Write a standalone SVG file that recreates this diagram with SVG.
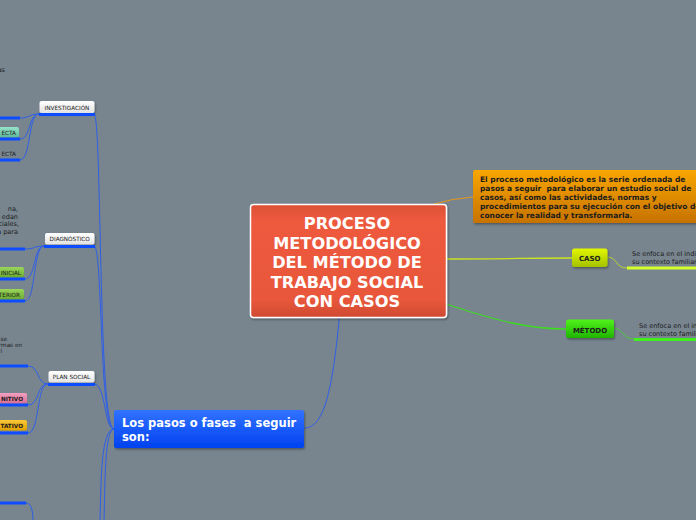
<svg xmlns="http://www.w3.org/2000/svg" width="696" height="520" viewBox="0 0 696 520">
<defs>
<linearGradient id="gRoot" x1="0" y1="0" x2="0" y2="1"><stop offset="0" stop-color="#dc5038"/><stop offset="0.15" stop-color="#ee5a3d"/><stop offset="0.85" stop-color="#e8573a"/><stop offset="1" stop-color="#cf4a32"/></linearGradient>
<linearGradient id="gBlue" x1="0" y1="0" x2="0" y2="1"><stop offset="0" stop-color="#3272ff"/><stop offset="1" stop-color="#0042f0"/></linearGradient>
<linearGradient id="gOrange" x1="0" y1="0" x2="0" y2="1"><stop offset="0" stop-color="#f9a600"/><stop offset="1" stop-color="#c67200"/></linearGradient>
<linearGradient id="gCaso" x1="0" y1="0" x2="0" y2="1"><stop offset="0" stop-color="#e2f700"/><stop offset="1" stop-color="#a4c200"/></linearGradient>
<linearGradient id="gMetodo" x1="0" y1="0" x2="0" y2="1"><stop offset="0" stop-color="#50f21c"/><stop offset="1" stop-color="#20b400"/></linearGradient>
<linearGradient id="gWhite" x1="0" y1="0" x2="0" y2="1"><stop offset="0" stop-color="#ffffff"/><stop offset="1" stop-color="#e2e2e2"/></linearGradient>
<linearGradient id="gTeal" x1="0" y1="0" x2="0" y2="1"><stop offset="0" stop-color="#96e4c8"/><stop offset="1" stop-color="#5cb698"/></linearGradient>
<linearGradient id="gGreen" x1="0" y1="0" x2="0" y2="1"><stop offset="0" stop-color="#9ad65a"/><stop offset="1" stop-color="#68a830"/></linearGradient>
<linearGradient id="gPink" x1="0" y1="0" x2="0" y2="1"><stop offset="0" stop-color="#f4a0c0"/><stop offset="1" stop-color="#d86c94"/></linearGradient>
<linearGradient id="gYellow" x1="0" y1="0" x2="0" y2="1"><stop offset="0" stop-color="#fbc838"/><stop offset="1" stop-color="#e0a000"/></linearGradient>
<filter id="sh" x="-10%" y="-10%" width="130%" height="140%"><feDropShadow dx="1" dy="1.5" stdDeviation="1" flood-color="#000" flood-opacity="0.35"/></filter>
</defs>
<style>
.thin{fill:none;stroke:#2f5fe6;stroke-width:1}
.ul{fill:none;stroke:#0d4cff;stroke-width:3}
.t{font-family:"DejaVu Sans",Verdana,sans-serif;fill:#1c1c1c}
.s{font-size:5.7px}
.n{font-size:6.5px}
.w{font-family:"DejaVu Sans",Verdana,sans-serif;font-weight:bold;fill:#ffffff}
.b{font-family:"DejaVu Sans",Verdana,sans-serif;font-weight:bold;fill:#1c1c1c}
</style>
<rect x="0" y="0" width="696" height="520" fill="#78858f"/>

<g id="connectors">
<path d="M400,220 Q430,200 473,197" fill="none" stroke="#e8961c" stroke-width="1"/>
<path d="M440,259 C500,259 530,258 572,258" fill="none" stroke="#c8e420" stroke-width="1.3"/>
<path d="M440,302 C500,322 530,329 566,329" fill="none" stroke="#3cdc20" stroke-width="1.3"/>
<path d="M340,310 C332,400 322,428 304,428" class="thin" stroke-width="1.3"/>
<path d="M608,257 C618,258 615,268 627,268" fill="none" stroke="#c8e420" stroke-width="0.8"/>
<path d="M614,328 C624,329 622,339 634,339" fill="none" stroke="#3cdc20" stroke-width="0.8"/>
<path d="M114,429 C98,429 102,114 94,114" class="thin"/>
<path d="M114,429 C99,429 103,246 94,246" class="thin"/>
<path d="M114,429 C104,429 106,384 94,384" class="thin"/>
<path d="M114,429 C101,429 101,480 100,522" class="thin"/>
<path d="M114,429 C105,429 105,480 104,522" class="thin"/>
<path d="M39,114 C28,114 31,118 20,118" class="thin"/>
<path d="M39,114 C28,114 31,139 20,139" class="thin"/>
<path d="M39,114 C28,114 31,160 20,160" class="thin"/>
<path d="M44,246 C33,246 36,249 25,249" class="thin"/>
<path d="M44,246 C33,246 36,279 25,279" class="thin"/>
<path d="M44,246 C33,246 36,301 25,301" class="thin"/>
<path d="M48,384 C36,384 40,366 28,366" class="thin"/>
<path d="M48,384 C36,384 40,405 28,405" class="thin"/>
<path d="M48,384 C36,384 40,433 28,433" class="thin"/>
<path d="M26,503 C31,503 33,510 33,522" class="thin"/>
</g>

<g id="root">
<rect x="250.5" y="204.5" width="196" height="113" rx="3" fill="url(#gRoot)" stroke="#ffffff" stroke-width="1.5" filter="url(#sh)"/>
<g class="w" font-size="16.2" text-anchor="middle">
<text x="347" y="229">PROCESO</text>
<text x="347" y="248.5">METODOLÓGICO</text>
<text x="347" y="268">DEL MÉTODO DE</text>
<text x="347" y="287.5">TRABAJO SOCIAL</text>
<text x="347" y="307">CON CASOS</text>
</g>
</g>

<g id="definicion">
<rect x="473" y="170" width="230" height="53" rx="2" fill="url(#gOrange)" filter="url(#sh)"/>
<g class="b" font-size="7.5">
<text x="480" y="182">El proceso metodológico es la serie ordenada de</text>
<text x="480" y="191" xml:space="preserve">pasos a seguir  para elaborar un estudio social de</text>
<text x="480" y="200">casos, así como las actividades, normas y</text>
<text x="480" y="209">procedimientos para su ejecución con el objetivo de</text>
<text x="480" y="218">conocer la realidad y transformarla.</text>
</g>
</g>

<g id="caso">
<rect x="572" y="248.5" width="35.5" height="18.5" rx="2.5" fill="url(#gCaso)" filter="url(#sh)"/>
<text class="b" font-size="7" x="589.7" y="261" text-anchor="middle">CASO</text>
<line x1="627" y1="268" x2="696" y2="268" stroke="#d4ff2a" stroke-width="3"/>
<text class="t" font-size="6.5" x="632" y="255.5">Se enfoca en el indi</text>
<text class="t" font-size="6.5" x="632" y="264">su contexto familiar</text>
</g>

<g id="metodo">
<rect x="566" y="319.5" width="48" height="18.5" rx="2.5" fill="url(#gMetodo)" filter="url(#sh)"/>
<text class="b" font-size="7" x="590" y="332.5" text-anchor="middle">MÉTODO</text>
<line x1="634" y1="339.5" x2="696" y2="339.5" stroke="#42ee1c" stroke-width="3"/>
<text class="t" font-size="6.5" x="639" y="327.5">Se enfoca en el in</text>
<text class="t" font-size="6.5" x="639" y="336">su contexto famili</text>
</g>

<g id="pasos">
<rect x="114" y="410" width="190" height="38" rx="2" fill="url(#gBlue)" filter="url(#sh)"/>
<text class="w" font-size="11.5" x="122" y="427" xml:space="preserve">Los pasos o fases  a seguir</text>
<text class="w" font-size="11.5" x="122" y="440.5">son:</text>
</g>

<g id="investigacion">
<rect x="39.5" y="101" width="55" height="12" rx="2" fill="url(#gWhite)" filter="url(#sh)"/>
<text class="t s" x="67" y="109.5" text-anchor="middle">INVESTIGACIÓN</text>
<line class="ul" x1="39" y1="114.5" x2="95" y2="114.5"/>
</g>
<g id="inv-1">
<text class="t n" x="5" y="72" text-anchor="end">as</text>
<line class="ul" x1="0" y1="118" x2="20" y2="118"/>
</g>
<g id="inv-2">
<rect x="-3" y="127" width="22" height="10.5" rx="2" fill="url(#gTeal)"/>
<text class="t s" x="16" y="134.5" text-anchor="end">ECTA</text>
<line class="ul" x1="0" y1="139" x2="20" y2="139"/>
</g>
<g id="inv-3">
<text class="t s" x="16" y="156" text-anchor="end">ECTA</text>
<line class="ul" x1="0" y1="160" x2="20" y2="160"/>
</g>

<g id="diagnostico">
<rect x="45" y="233" width="49.5" height="11.5" rx="2" fill="url(#gWhite)" filter="url(#sh)"/>
<text class="t s" x="69.7" y="241.2" text-anchor="middle">DIAGNÓSTICO</text>
<line class="ul" x1="44" y1="246.5" x2="95" y2="246.5"/>
</g>
<g id="diag-1">
<g class="t n" text-anchor="end">
<text x="18" y="211">na,</text>
<text x="18" y="218.5">edan</text>
<text x="19" y="226">ciales,</text>
<text x="18" y="233.5">a para</text>
</g>
<line class="ul" x1="0" y1="249" x2="25" y2="249"/>
</g>
<g id="diag-2">
<rect x="-3" y="267" width="27" height="10.5" rx="2" fill="url(#gGreen)"/>
<text class="t s" x="21" y="274.5" text-anchor="end">INICIAL</text>
<line class="ul" x1="0" y1="279" x2="25" y2="279"/>
</g>
<g id="diag-3">
<rect x="-3" y="289" width="27" height="10.5" rx="2" fill="url(#gGreen)"/>
<text class="t s" x="20" y="296.5" text-anchor="end">TERIOR</text>
<line class="ul" x1="0" y1="301" x2="25" y2="301"/>
</g>

<g id="plan">
<rect x="48.5" y="371" width="46" height="11.5" rx="2" fill="url(#gWhite)" filter="url(#sh)"/>
<text class="t s" x="71.5" y="379.2" text-anchor="middle">PLAN SOCIAL</text>
<line class="ul" x1="48" y1="384.5" x2="95" y2="384.5"/>
</g>
<g id="plan-1">
<g class="t s" text-anchor="end">
<text x="7" y="340.5">se</text>
<text x="22" y="347">rmas en</text>
<text x="2" y="353">l</text>
</g>
<line class="ul" x1="0" y1="366" x2="28" y2="366"/>
</g>
<g id="plan-2">
<rect x="-3" y="393" width="30" height="10.5" rx="2" fill="url(#gPink)"/>
<text class="b s" x="23" y="400.8" text-anchor="end">NITIVO</text>
<line class="ul" x1="0" y1="405" x2="28" y2="405"/>
</g>
<g id="plan-3">
<rect x="-3" y="420" width="30" height="10.5" rx="2" fill="url(#gYellow)"/>
<text class="b s" x="23" y="428" text-anchor="end">TATIVO</text>
<line class="ul" x1="0" y1="433" x2="28" y2="433"/>
</g>
<g id="next-1">
<line class="ul" x1="0" y1="503" x2="26" y2="503"/>
</g>
</svg>
